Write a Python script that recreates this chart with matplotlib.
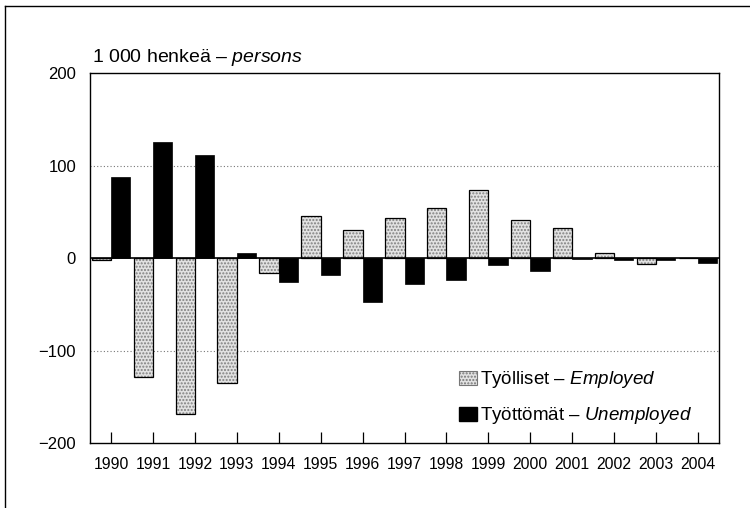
import matplotlib
matplotlib.use("Agg")
import matplotlib.pyplot as plt
from matplotlib.lines import Line2D
import numpy as np

plt.rcParams['font.family'] = ['Liberation Sans', 'DejaVu Sans']
plt.rcParams['mathtext.fontset'] = 'custom'
plt.rcParams['mathtext.rm'] = 'Liberation Sans'
plt.rcParams['mathtext.it'] = 'Liberation Sans:italic'
plt.rcParams['axes.unicode_minus'] = True

# data (1 000 persons, change from previous year)
years = ['1990', '1991', '1992', '1993', '1994', '1995', '1996', '1997',
         '1998', '1999', '2000', '2001', '2002', '2003', '2004']
employed = [-2, -129, -169, -135, -16, 45, 30, 43, 54, 74, 41, 33, 6, -6, 0]
unemployed = [88, 125, 112, 5, -26, -18, -48, -28, -24, -8, -14, -1, -2, -2, -5]

yticks = [-200, -100, 0, 100, 200]

fig = plt.figure(figsize=(7.5, 5.08), dpi=100)
ax = fig.add_axes([0.12, 0.128, 0.8387, 0.728])

x = np.arange(len(years))
w = 0.46

# employed: dotted grey fill + black outline
ax.bar(x - w / 2, employed, w, color='#e2e2e2', hatch='.....',
       edgecolor='#808080', linewidth=0, zorder=2)
ax.bar(x - w / 2, employed, w, fill=False, edgecolor='black',
       linewidth=0.9, zorder=3)
ax.bar(x + w / 2, unemployed, w, color='black', edgecolor='black',
       linewidth=0.5, zorder=3)

ax.axhline(0, color='black', linewidth=1.2, zorder=4)
for g in [-100, 100]:
    ax.axhline(g, color='#777777', linewidth=0.8, linestyle=(0, (1, 2)), zorder=1)

ax.set_xlim(-0.5, len(years) - 0.5)
ax.set_ylim(-200, 200)
ax.set_yticks(yticks)
ax.set_yticklabels([str(v).replace('-', '\u2212') for v in yticks], fontsize=12)
ax.tick_params(axis='y', length=0, pad=10)
ax.set_xticks(x)
ax.set_xticklabels(years, fontsize=11.3)
ax.tick_params(axis='x', direction='in', length=8, width=0.9, pad=10)

for s in ax.spines.values():
    s.set_linewidth(1.0)
    s.set_color('black')

ax.text(0.003, 1.013, '1 000 henkeä – $\\mathit{persons}$', transform=ax.transAxes,
        fontsize=14, ha='left', va='bottom')

# legend
h1 = plt.Rectangle((0, 0), 1, 1, facecolor='#e2e2e2', hatch='.....',
                   edgecolor='#777777', linewidth=0.8)
h2 = plt.Rectangle((0, 0), 1, 1, facecolor='black', edgecolor='black')
leg = ax.legend([h1, h2], ['Työlliset – $\\mathit{Employed}$',
                           'Työttömät – $\\mathit{Unemployed}$'],
                loc='lower right', bbox_to_anchor=(0.972, 0.02), frameon=False,
                fontsize=13.5, handlelength=1.0, handleheight=0.8,
                handletextpad=0.15, labelspacing=0.8, borderpad=0)

# outer frame (top and left only)
fig.add_artist(Line2D([0.007, 1.0], [0.989, 0.989], transform=fig.transFigure,
                      color='black', linewidth=1.0))
fig.add_artist(Line2D([0.007, 0.007], [0.0, 0.989], transform=fig.transFigure,
                      color='black', linewidth=1.0))

fig.savefig('out.png', dpi=100)
